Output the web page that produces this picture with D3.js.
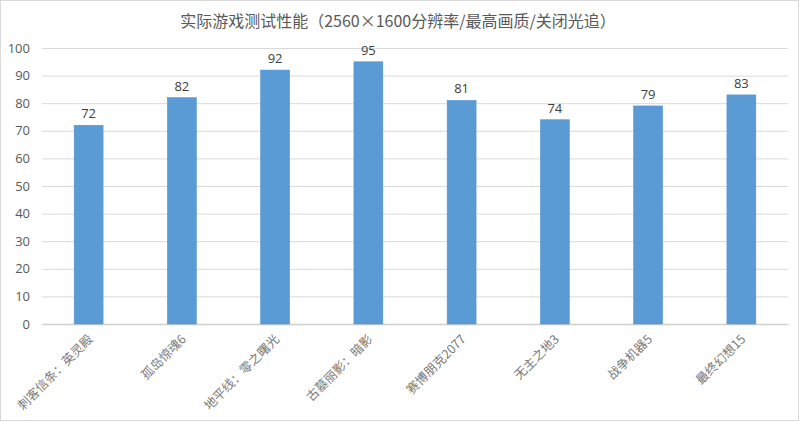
<!DOCTYPE html>
<html><head><meta charset="utf-8">
<script src="https://cdn.jsdelivr.net/npm/d3@7"></script>
<style>
html,body{margin:0;padding:0;background:#fff;}
svg{display:block;}
</style></head>
<body>
<svg id="c" width="800" height="422"></svg>
<script>
const title = "实际游戏测试性能（2560×1600分辨率/最高画质/关闭光追）";
const categories = ["刺客信条：英灵殿","孤岛惊魂6","地平线：零之曙光","古墓丽影：暗影","赛博朋克2077","无主之地3","战争机器5","最终幻想15"];
const values = [72,82,92,95,81,74,79,83];
const yTicks = [0,10,20,30,40,50,60,70,80,90,100];

const svg = d3.select("#c");
const W = 800, H = 422;
const m = {left:42, right:12, top:48, bottom:98};

svg.append("rect").attr("x",0.5).attr("y",0.5).attr("width",W-2).attr("height",H-2)
  .attr("fill","#fff").attr("stroke","#d9d9d9");

const x = d3.scaleBand().domain(categories).range([m.left, W-m.right]).paddingInner(0.69).paddingOuter(0.345);
const y = d3.scaleLinear().domain([0,100]).range([H-m.bottom, m.top]);

// gridlines
const yAxis = d3.axisLeft(y).tickValues(yTicks).tickSize(-(W-m.left-m.right)).tickPadding(12);
const gy = svg.append("g").attr("transform",`translate(${m.left},0)`).call(yAxis);
gy.select(".domain").remove();
gy.selectAll(".tick line").attr("stroke","#d9d9d9").attr("stroke-width",1);
gy.selectAll(".tick text").attr("fill","#595959").style("font-family","'Open Sans','Noto Sans',sans-serif").style("font-size","13px");

// x axis
const xAxis = d3.axisBottom(x).tickSize(0).tickFormat("");
const gx = svg.append("g").attr("transform",`translate(0,${y(0)})`).call(xAxis);
gx.select(".domain").attr("stroke","#d0d0d0").attr("stroke-width",1.5);

// bars
svg.append("g").selectAll("rect").data(values).join("rect")
  .attr("x",(d,i)=>x(categories[i]))
  .attr("y",d=>y(d))
  .attr("width",x.bandwidth())
  .attr("height",d=>y(0)-y(d))
  .attr("fill","#5b9bd5")
  .attr("stroke","#5294d2").attr("stroke-width",0.6);

// value labels
svg.append("g").selectAll("text").data(values).join("text")
  .attr("x",(d,i)=>x(categories[i])+x.bandwidth()/2)
  .attr("y",d=>y(d)-7)
  .attr("text-anchor","middle")
  .attr("fill","#404040")
  .style("font-family","'Open Sans','Noto Sans',sans-serif").style("font-size","13px")
  .text(d=>d);

// category labels
svg.append("g").selectAll("text").data(categories).join("text")
  .attr("transform",d=>`translate(${x(d)+x.bandwidth()/2+5},${y(0)+16}) rotate(-45)`)
  .attr("text-anchor","end")
  .attr("fill","#7a7a7a")
  .style("font-family","'Noto Sans CJK SC',sans-serif").style("font-size","12.5px")
  .text(d=>d);

// title
svg.append("text").attr("x",398).attr("y",27).attr("text-anchor","middle")
  .attr("fill","#595959")
  .style("font-family","'Noto Sans CJK SC',sans-serif").style("font-size","16px")
  .text(title);
</script>
</body></html>
